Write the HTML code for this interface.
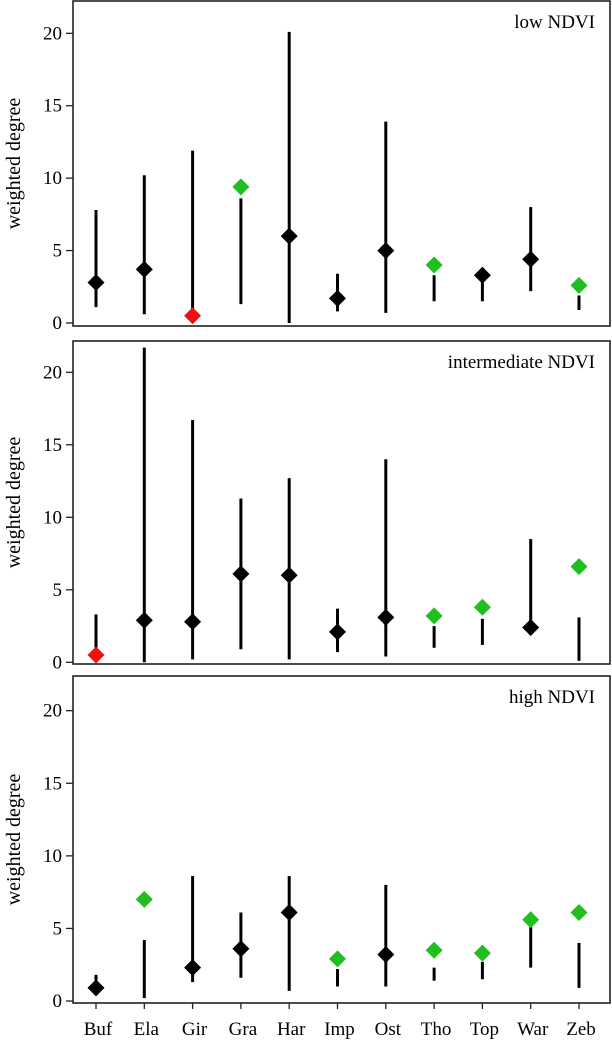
<!DOCTYPE html>
<html><head><meta charset="utf-8"><style>
html,body{margin:0;padding:0;background:#fff;}
svg{display:block;}
svg text{font-family:"Liberation Serif","Times New Roman",serif;}
</style></head><body>
<svg id="chart" width="612" height="1041" viewBox="0 0 612 1041" font-family="Liberation Serif, serif"></svg>
<script>
const categories = ["Buf","Ela","Gir","Gra","Har","Imp","Ost","Tho","Top","War","Zeb"];
const panelTitles = ["low NDVI","intermediate NDVI","high NDVI"];
const yTicks = [0,5,10,15,20];
// values, lower and upper bounds, colour codes (k=black,g=green,r=red)
const lowVal = [2.8,3.7,0.5,9.4,6.0,1.7,5.0,4.0,3.3,4.4,2.6];
const lowLo  = [1.1,0.6,0.5,1.3,0.0,0.8,0.7,1.5,1.5,2.2,0.9];
const lowHi  = [7.8,10.2,11.9,8.6,20.1,3.4,13.9,3.3,3.8,8.0,1.9];
const lowCol = ["k","k","r","g","k","k","k","g","k","k","g"];
const midVal = [0.5,2.9,2.8,6.1,6.0,2.1,3.1,3.2,3.8,2.4,6.6];
const midLo  = [0.0,0.0,0.2,0.9,0.2,0.7,0.4,1.0,1.2,1.9,0.1];
const midHi  = [3.3,21.7,16.7,11.3,12.7,3.7,14.0,2.5,3.0,8.5,3.1];
const midCol = ["r","k","k","k","k","k","k","g","g","k","g"];
const highVal = [0.9,7.0,2.3,3.6,6.1,2.9,3.2,3.5,3.3,5.6,6.1];
const highLo  = [0.9,0.2,1.3,1.6,0.7,1.0,1.0,1.4,1.5,2.3,0.9];
const highHi  = [1.8,4.2,8.6,6.1,8.6,2.2,8.0,2.3,2.7,5.1,4.0];
const highCol = ["k","g","k","k","k","g","k","g","g","g","g"];

const NS="http://www.w3.org/2000/svg";
const svg=document.getElementById("chart");
const colors={k:"#000",g:"#1fbf1f",r:"#ee1111"};
const FONT="Liberation Serif, Times New Roman, serif";
const panels=[
 {top:1,bottom:326,y0:323,y20:33.3,val:lowVal,lo:lowLo,hi:lowHi,col:lowCol,name:"low"},
 {top:341,bottom:664,y0:662.3,y20:372.3,val:midVal,lo:midLo,hi:midHi,col:midCol,name:"intermediate"},
 {top:676,bottom:1003,y0:1001,y20:710.7,val:highVal,lo:highLo,hi:highHi,col:highCol,name:"high"}
];
const L=73,R=610;
function xPos(i){return 96+i*48.3;}
function mk(tag,attrs,parent){const e=document.createElementNS(NS,tag);for(const k in attrs)e.setAttribute(k,attrs[k]);if(tag==="text")e.setAttribute("font-family",FONT);(parent||svg).appendChild(e);return e;}

panels.forEach((p,pi)=>{
 const y=v=>p.y0+(p.y20-p.y0)*v/20;
 const g=mk("g",{});
 
 
 const box=mk("rect",{x:L,y:p.top,width:R-L,height:p.bottom-p.top,fill:"none",stroke:"#222","stroke-width":1.6},g);
 
 
 yTicks.forEach(t=>{
  mk("line",{x1:L-7,x2:L,y1:y(t),y2:y(t),stroke:"#222","stroke-width":1.3},g);
  const tx=mk("text",{x:L-11,y:y(t)+6,"text-anchor":"end","font-size":19},g);
  tx.textContent=t;
  
  
 });
 const yt=mk("text",{x:0,y:0,transform:`translate(20,${(p.top+p.bottom)/2}) rotate(-90)`,"text-anchor":"middle","font-size":20},g);
 yt.textContent="weighted degree";
 
 
 const tt=mk("text",{x:595,y:p.top+27,"text-anchor":"end","font-size":19},g);
 tt.textContent=panelTitles[pi];
 
 
 categories.forEach((c,i)=>{
  const x=xPos(i);
  const ln=mk("line",{x1:x,x2:x,y1:y(p.lo[i]),y2:y(p.hi[i]),stroke:"#000","stroke-width":3},g);
  
  
  const cy=y(p.val[i]),s=8.5;
  const d=mk("polygon",{points:`${x},${cy-s} ${x+s},${cy} ${x},${cy+s} ${x-s},${cy}`,fill:colors[p.col[i]]},g);
  
  
 });
 if(pi===2){
  categories.forEach((c,i)=>{
   const x=xPos(i);
   mk("line",{x1:x,x2:x,y1:p.bottom,y2:p.bottom+6,stroke:"#222","stroke-width":1.3},g);
   const lt=mk("text",{x:x+2,y:1035,"text-anchor":"middle","font-size":19},g);
   lt.textContent=c;
   
   
  });
 }
});
</script>
</body></html>
